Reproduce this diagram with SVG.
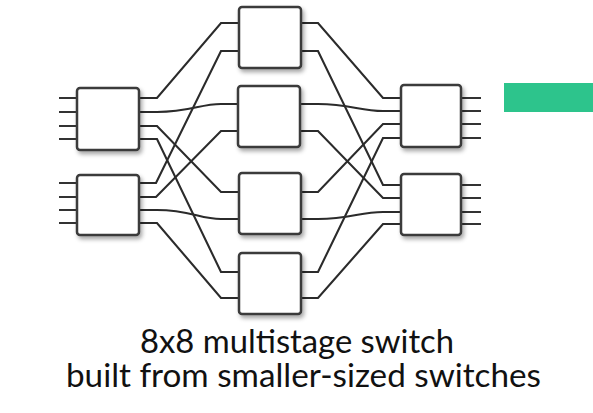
<svg xmlns="http://www.w3.org/2000/svg" width="593" height="413" viewBox="0 0 593 413">
<defs>
<filter id="sh" x="-20%" y="-20%" width="150%" height="150%">
<feDropShadow dx="2" dy="3" stdDeviation="2" flood-color="#000" flood-opacity="0.35"/>
</filter>
<style>
.box{fill:#fff;stroke:#3a3a3a;stroke-width:2.5;filter:url(#sh)}
.stub{stroke:#333;stroke-width:2.2;fill:none}
.wire{stroke:#2b2b2b;stroke-width:2.1;fill:none}
.lbl{font-family:Lato,"Open Sans","Liberation Sans",sans-serif;font-size:32px;fill:#111}
</style>
</defs>
<rect width="593" height="413" fill="#fff"/>
<rect x="504" y="83" width="89" height="29" fill="#2dc48c"/>
<g id="connectors">
<path class="wire" d="M139,98 H157 L221,23 H239"/>
<path class="wire" d="M139,112 H157 C190,112 200,104 221,104 H239"/>
<path class="wire" d="M139,126 H157 L221,192 H239"/>
<path class="wire" d="M139,139 H157 L221,272 H239"/>
<path class="wire" d="M139,183 H156 L221,51 H239"/>
<path class="wire" d="M139,197 H156 L221,131 H239"/>
<path class="wire" d="M139,210 H157 C190,210 200,219 221,219 H239"/>
<path class="wire" d="M139,223 H157 L221,298 H239"/>
<path class="wire" d="M301,23 H318 L383,98 H401"/>
<path class="wire" d="M301,51 H318 L383,185 H401"/>
<path class="wire" d="M301,104 H318 C350,104 360,111 383,111 H401"/>
<path class="wire" d="M301,131 H318 L383,198 H401"/>
<path class="wire" d="M301,192 H318 L383,124 H401"/>
<path class="wire" d="M301,219 H318 C350,219 360,212 383,212 H401"/>
<path class="wire" d="M301,272 H318 L383,138 H401"/>
<path class="wire" d="M301,298 H318 L383,224 H401"/>
<path class="stub" d="M59,98 H77 M59,112 H77 M59,126 H77 M59,139 H77 M59,183 H77 M59,197 H77 M59,210 H77 M59,223 H77"/>
<path class="stub" d="M461,98 H481 M461,111 H481 M461,124 H481 M461,138 H481 M461,185 H481 M461,198 H481 M461,212 H481 M461,224 H481"/>
</g>
<g id="L1"><rect class="box" x="77" y="88" width="62" height="62" rx="3"/></g>
<g id="L2"><rect class="box" x="77" y="175" width="62" height="60" rx="3"/></g>
<g id="M1"><rect class="box" x="239" y="7" width="62" height="61" rx="3"/></g>
<g id="M2"><rect class="box" x="238" y="86" width="62" height="61" rx="3"/></g>
<g id="M3"><rect class="box" x="239" y="173" width="62" height="61" rx="3"/></g>
<g id="M4"><rect class="box" x="239" y="253" width="62" height="61" rx="3"/></g>
<g id="R1"><rect class="box" x="401" y="85" width="60" height="62" rx="3"/></g>
<g id="R2"><rect class="box" x="401" y="174" width="60" height="61" rx="3"/></g>
<g id="caption">
<text class="lbl" x="140" y="353" textLength="314" lengthAdjust="spacingAndGlyphs">8x8 multistage switch</text>
<text class="lbl" x="66" y="387" textLength="475" lengthAdjust="spacingAndGlyphs">built from smaller-sized switches</text>
</g>
</svg>
